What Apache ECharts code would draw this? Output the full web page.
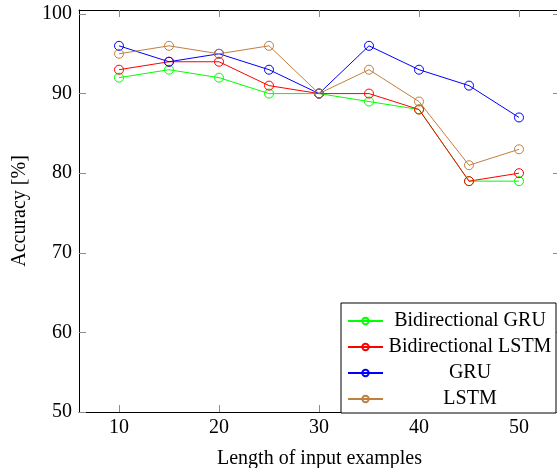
<!DOCTYPE html>
<html>
<head>
    <meta charset="UTF-8">
    <title>Accuracy vs length</title>
    <script src="https://cdn.jsdelivr.net/npm/echarts@6/dist/echarts.min.js"></script>
    <style>
        html, body { margin: 0; padding: 0; background: #fff; }
        #chart { width: 557px; height: 468px; }
    </style>
</head>
<body>
<div id="chart"></div>
<script>
    // data
    var lengths = [10, 15, 20, 25, 30, 35, 40, 45, 50];
    var biGru  = [92, 93, 92, 90, 90, 89, 88, 79, 79];
    var biLstm = [93, 94, 94, 91, 90, 90, 88, 79, 80];
    var gru    = [96, 94, 95, 93, 90, 96, 93, 91, 87];
    var lstm   = [95, 96, 95, 96, 90, 93, 89, 81, 83];

    var seriesNames = ['Bidirectional GRU', 'Bidirectional LSTM', 'GRU', 'LSTM'];
    var seriesColors = ['#00ff00', '#ff0000', '#0000ff', '#bf8040'];
    var xTicks = [10, 20, 30, 40, 50];
    var yTicks = [50, 60, 70, 80, 90, 100];

    var font = 'Liberation Serif';
    var fs = 20;
    var tickColor = '#8c8c8c';

    function pairs(vals) {
        return lengths.map(function (x, i) { return [x, vals[i]]; });
    }

    var allVals = [biGru, biLstm, gru, lstm];
    var series = allVals.map(function (vals, i) {
        return {
            name: seriesNames[i],
            type: 'line',
            data: pairs(vals),
            symbol: 'circle',
            symbolSize: 9,
            showSymbol: true,
            lineStyle: { color: seriesColors[i], width: 1 },
            itemStyle: { color: 'rgba(0,0,0,0)', borderColor: seriesColors[i], borderWidth: 1 },
            emphasis: { disabled: true },
            animation: false
        };
    });

    // x range 6..54, the right end falls just past the picture edge
    function xAxisCfg(pos, labels) {
        return {
            type: 'value',
            position: pos,
            min: 6,
            max: 54.1,
            axisLine: { show: true, onZero: false, lineStyle: { color: '#000', width: 1 } },
            axisTick: { show: true, inside: true, length: 7, customValues: xTicks,
                        lineStyle: { color: tickColor, width: 1 } },
            axisLabel: { show: labels, customValues: xTicks, margin: 6,
                         fontFamily: font, fontSize: fs, color: '#000' },
            splitLine: { show: false },
            name: labels ? 'Length of input examples' : '',
            nameLocation: 'middle',
            nameGap: 37,
            nameTextStyle: { fontFamily: font, fontSize: fs, color: '#000' }
        };
    }

    function yAxisCfg(pos, labels) {
        var isLeft = pos === 'left';
        return {
            type: 'value',
            position: pos,
            min: 50,
            max: 100.5,
            axisLine: { show: isLeft, onZero: false, lineStyle: { color: '#000', width: 1 } },
            axisTick: { show: true, inside: true, length: 7, customValues: yTicks,
                        lineStyle: { color: tickColor, width: 1 } },
            axisLabel: { show: labels, customValues: yTicks, margin: 7,
                         fontFamily: font, fontSize: fs, color: '#000' },
            splitLine: { show: false },
            name: labels ? 'Accuracy [%]' : '',
            nameLocation: 'middle',
            nameGap: 49,
            nameTextStyle: { fontFamily: font, fontSize: fs, color: '#000' }
        };
    }

    var chart = echarts.init(document.getElementById('chart'), null, { renderer: 'canvas' });
    chart.setOption({
        animation: false,
        backgroundColor: '#fff',
        grid: { left: 79, top: 10, right: -3, bottom: 56, show: false, outerBoundsMode: 'none' },
        xAxis: [xAxisCfg('bottom', true), xAxisCfg('top', false)],
        yAxis: [yAxisCfg('left', true), yAxisCfg('right', false)],
        legend: {
            data: seriesNames,
            orient: 'vertical',
            left: 341,
            top: 303,
            padding: [8, 4, 4, 6],
            itemGap: 6,
            itemWidth: 35,
            itemHeight: 8,
            backgroundColor: '#fff',
            borderColor: '#000',
            borderWidth: 1,
            borderRadius: 0,
            selectedMode: false,
            formatter: '{a|{name}}',
            textStyle: {
                fontFamily: font, fontSize: fs, color: '#000',
                rich: { a: { width: 164, align: 'center', fontFamily: font, fontSize: fs, lineHeight: 20 } }
            }
        },
        series: series
    });
</script>
</body>
</html>
